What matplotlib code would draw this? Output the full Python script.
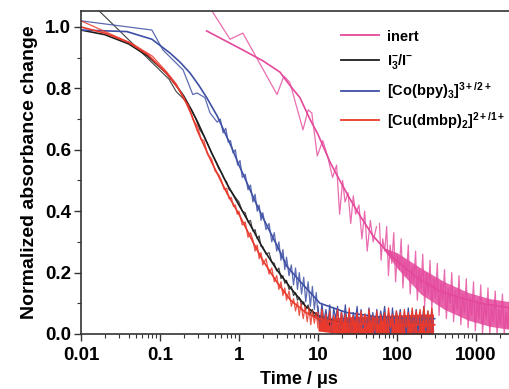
import matplotlib
matplotlib.use('Agg')
import matplotlib.pyplot as plt
from matplotlib.ticker import AutoMinorLocator, FixedLocator, FixedFormatter
from matplotlib.lines import Line2D

plt.rcParams['font.family'] = ['Liberation Sans', 'DejaVu Sans']
plt.rcParams['font.weight'] = 'bold'
plt.rcParams['mathtext.fontset'] = 'custom'
plt.rcParams['mathtext.rm'] = 'Liberation Sans:bold'
plt.rcParams['mathtext.it'] = 'Liberation Sans:bold'
plt.rcParams['mathtext.bf'] = 'Liberation Sans:bold'

# ---- data (time in us, normalized change) ----
labels = ['inert', r'$\mathrm{I_3^{-}/I^{-}}$',
          r'$\mathrm{[Co(bpy)_3]^{3+/2+}}$', r'$\mathrm{[Cu(dmbp)_2]^{2+/1+}}$']

xtick_vals = [0.01, 0.1, 1, 10, 100, 1000]
xtick_labels = ['0.01', '0.1', '1', '10', '100', '1000']

# smooth fits
pink_fit_t = [0.39, 1.03, 2.0, 3.3, 4.4, 5.9, 7.9, 10, 14.2, 18, 25.4, 35, 49.7, 80, 134, 200, 350, 600, 1124, 2700]
pink_fit_v = [0.987, 0.93, 0.89, 0.853, 0.81, 0.77, 0.70, 0.65, 0.56, 0.51, 0.44, 0.38, 0.32, 0.26, 0.21, 0.175, 0.14, 0.12, 0.10, 0.085]

blk_fit_t = [0.01, 0.02, 0.04, 0.07, 0.12, 0.16, 0.2, 0.25, 0.3, 0.45, 0.7, 1.0, 1.5, 2.0, 3.0, 4.5, 7, 10, 15, 20]
blk_fit_v = [0.99, 0.975, 0.945, 0.905, 0.85, 0.81, 0.775, 0.73, 0.69, 0.59, 0.49, 0.42, 0.34, 0.28, 0.21, 0.15, 0.09, 0.06, 0.045, 0.035]

blue_fit_t = [0.01, 0.038, 0.079, 0.134, 0.18, 0.24, 0.31, 0.39, 0.53, 0.8, 1.0, 1.2, 1.55, 2.0, 3.0, 4.05, 6.0, 10.6, 23, 60, 150, 300]
blue_fit_v = [0.99, 0.985, 0.96, 0.915, 0.885, 0.85, 0.81, 0.77, 0.71, 0.61, 0.55, 0.505, 0.44, 0.38, 0.29, 0.22, 0.17, 0.10, 0.07, 0.055, 0.05, 0.05]

red_fit_t = [0.01, 0.02, 0.04, 0.07, 0.12, 0.17, 0.2, 0.25, 0.3, 0.45, 0.7, 1.0, 1.5, 2.0, 3.0, 4.5, 7, 10, 20, 50, 300]
red_fit_v = [1.00, 0.98, 0.95, 0.91, 0.85, 0.80, 0.77, 0.715, 0.66, 0.56, 0.46, 0.39, 0.30, 0.24, 0.17, 0.11, 0.07, 0.05, 0.035, 0.03, 0.03]

# raw traces (early, sparse part)
pink_raw_t = [0.3, 0.77, 1.12, 3.03, 3.7, 4.4, 6.46, 7.5, 8.35, 9.8, 11.5, 13.2, 15.3, 17.2, 18.8,
              20.5, 22, 24, 26, 28, 30, 33, 36, 39, 42, 46, 50, 55]
pink_raw_v = [1.125, 0.96, 0.98, 0.78, 0.84, 0.82, 0.665, 0.73, 0.72, 0.58, 0.63, 0.58, 0.51, 0.55, 0.39,
              0.50, 0.43, 0.46, 0.36, 0.45, 0.39, 0.42, 0.31, 0.40, 0.27, 0.37, 0.30, 0.35]

blk_raw_t = [0.01, 0.13, 0.16, 0.2, 0.25, 0.28, 0.32, 0.36, 0.4, 0.45,
             0.5, 0.55, 0.6, 0.65, 0.7, 0.75, 0.8, 0.9, 1.0, 1.1,
             1.2, 1.3, 1.4, 1.5, 1.6, 1.7, 1.8, 1.9, 2.0, 2.2,
             2.4, 2.6, 2.8, 3.0, 3.2, 3.4, 3.6, 3.8, 4.0, 4.3,
             4.6, 4.9, 5.2, 5.5, 5.8, 6.2, 6.6, 7.0, 7.5, 8.0,
             8.5, 9.0, 9.5, 10, 11, 12, 13, 14, 15]
blk_raw_v = [1.11, 0.83, 0.79, 0.765, 0.73, 0.705, 0.665, 0.645, 0.62, 0.59,
             0.565, 0.54, 0.525, 0.505, 0.495, 0.47, 0.465, 0.445, 0.43, 0.40,
             0.395, 0.365, 0.37, 0.335, 0.34, 0.31, 0.32, 0.285, 0.285, 0.26,
             0.265, 0.235, 0.23, 0.205, 0.215, 0.18, 0.19, 0.165, 0.175, 0.145,
             0.155, 0.125, 0.135, 0.11, 0.12, 0.095, 0.105, 0.08, 0.095, 0.065,
             0.08, 0.055, 0.07, 0.045, 0.06, 0.04, 0.055, 0.03, 0.045]

blue_raw_t = [0.01, 0.079, 0.109, 0.196, 0.26, 0.294, 0.37, 0.43, 0.53, 0.58, 0.63,
              0.68, 0.73, 0.78, 0.84, 0.9, 0.96, 1.03, 1.1, 1.2, 1.3,
              1.4, 1.5, 1.6, 1.7, 1.8, 1.9, 2.0, 2.2, 2.4, 2.6,
              2.8, 3.0, 3.2, 3.4, 3.6, 3.8, 4.0, 4.3, 4.6, 4.9,
              5.2, 5.5, 5.8, 6.2, 6.6, 7.0, 7.5, 8.0, 8.5, 9.0,
              9.5, 10]
blue_raw_v = [1.02, 0.99, 0.925, 0.86, 0.78, 0.785, 0.77, 0.72, 0.69, 0.70, 0.655,
              0.67, 0.625, 0.63, 0.59, 0.60, 0.55, 0.565, 0.51, 0.52, 0.47,
              0.485, 0.43, 0.455, 0.40, 0.42, 0.37, 0.395, 0.34, 0.36, 0.30,
              0.33, 0.27, 0.30, 0.24, 0.275, 0.21, 0.25, 0.19, 0.225, 0.16,
              0.215, 0.145, 0.20, 0.13, 0.185, 0.105, 0.17, 0.09, 0.155, 0.08,
              0.135, 0.065]

red_raw_t = [0.01, 0.045, 0.08, 0.12, 0.16, 0.2, 0.23, 0.26, 0.3, 0.33,
             0.36, 0.4, 0.45, 0.5, 0.55, 0.6, 0.65, 0.7, 0.75, 0.8,
             0.85, 0.9, 0.95, 1.0, 1.1, 1.2, 1.3, 1.4, 1.5, 1.6,
             1.7, 1.8, 1.9, 2.0, 2.2, 2.4, 2.6, 2.8, 3.0, 3.2,
             3.4, 3.6, 3.8, 4.0, 4.3, 4.6, 4.9, 5.2, 5.5, 5.8,
             6.1, 6.5, 6.9, 7.3, 7.7, 8.1, 8.5, 9.0, 9.5, 10]
red_raw_v = [1.02, 0.945, 0.905, 0.855, 0.815, 0.765, 0.745, 0.70, 0.675, 0.635,
             0.63, 0.585, 0.57, 0.53, 0.52, 0.50, 0.47, 0.475, 0.44, 0.445,
             0.415, 0.42, 0.39, 0.40, 0.355, 0.365, 0.315, 0.33, 0.305, 0.27,
             0.29, 0.245, 0.265, 0.225, 0.245, 0.195, 0.215, 0.17, 0.19, 0.145,
             0.17, 0.125, 0.15, 0.11, 0.14, 0.09, 0.115, 0.075, 0.105, 0.06,
             0.10, 0.05, 0.09, 0.04, 0.085, 0.03, 0.075, 0.035, 0.07, 0.02]

# dense noisy tails
tail_t = [10, 10.6, 11.2, 11.9, 12.6, 13.3, 14.1, 14.9, 15.8, 16.7,
          17.7, 18.7, 19.8, 21, 22.2, 23.5, 24.9, 26.4, 27.9, 29.6,
          31.3, 33.2, 35.1, 37.2, 39.4, 41.7, 44.2, 46.8, 49.5, 52.4,
          55.5, 58.8, 62.2, 65.9, 69.8, 73.9, 78.2, 82.8, 87.7, 92.9,
          98.3, 104, 110, 117, 124, 131, 139, 147, 156, 165,
          175, 185, 196, 207, 219, 232, 246, 260, 276, 290]
blue_tail_v = [0.09, 0.02, 0.10, 0.04, 0.08, 0.03, 0.095, 0.0, 0.085, 0.05,
               0.09, 0.01, 0.075, 0.03, 0.095, 0.02, 0.06, 0.0, 0.07, 0.04,
               0.09, 0.0, 0.08, 0.02, 0.065, 0.01, 0.085, 0.03, 0.07, 0.0,
               0.08, 0.02, 0.075, 0.04, 0.09, 0.01, 0.07, 0.0, 0.085, 0.02,
               0.075, 0.03, 0.08, 0.01, 0.07, 0.0, 0.085, 0.02, 0.075, 0.0,
               0.08, 0.01, 0.07, 0.03, 0.09, 0.01, 0.075, 0.0, 0.08, 0.01]
red_tail_v = [0.07, 0.01, 0.08, 0.03, 0.065, 0.015, 0.075, 0.0, 0.06, 0.03,
              0.08, 0.005, 0.07, 0.02, 0.065, 0.01, 0.085, 0.0, 0.06, 0.025,
              0.07, 0.0, 0.075, 0.03, 0.065, 0.0, 0.08, 0.02, 0.06, 0.01,
              0.075, 0.0, 0.065, 0.025, 0.07, 0.0, 0.085, 0.02, 0.065, 0.0,
              0.075, 0.03, 0.07, 0.005, 0.08, 0.02, 0.07, 0.015, 0.085, 0.005,
              0.075, 0.03, 0.08, 0.0, 0.09, 0.02, 0.075, 0.005, 0.085, 0.01]
red_core_t = [10, 20, 50, 100, 200, 290]
red_core_lo = [0.01, 0.0, 0.0, 0.0, 0.0, 0.0]
red_core_hi = [0.05, 0.055, 0.06, 0.062, 0.065, 0.065]

pink_tail_t = [60, 63, 66, 70, 74, 78, 82, 86, 91, 96,
               101, 107, 113, 119, 125, 132, 139, 147, 155, 163,
               172, 181, 191, 201, 212, 224, 236, 249, 262, 276,
               291, 307, 324, 341, 360, 379, 400, 422, 445, 469,
               494, 521, 549, 579, 610, 643, 678, 715, 754, 795,
               838, 883, 931, 981, 1034, 1090, 1149, 1211, 1277, 1346,
               1419, 1496, 1577, 1662, 1752, 1847, 1947, 2052, 2163, 2280,
               2404, 2534, 2671]
pink_tail_v = [0.36, 0.24, 0.31, 0.27, 0.35, 0.19, 0.29, 0.23, 0.33, 0.17,
               0.26, 0.21, 0.31, 0.15, 0.24, 0.19, 0.29, 0.13, 0.22, 0.17,
               0.27, 0.11, 0.21, 0.15, 0.26, 0.09, 0.20, 0.13, 0.24, 0.08,
               0.18, 0.12, 0.23, 0.06, 0.17, 0.11, 0.21, 0.05, 0.15, 0.10,
               0.20, 0.04, 0.14, 0.08, 0.19, 0.03, 0.13, 0.07, 0.18, 0.02,
               0.12, 0.06, 0.17, 0.01, 0.11, 0.05, 0.16, 0.0, 0.10, 0.05,
               0.15, 0.0, 0.09, 0.04, 0.14, 0.0, 0.08, 0.03, 0.13, 0.0,
               0.07, 0.02, 0.12]
pink_core_t = [70, 100, 200, 400, 800, 1500, 2700]
pink_core_lo = [0.27, 0.215, 0.13, 0.08, 0.045, 0.025, 0.015]
pink_core_hi = [0.28, 0.265, 0.215, 0.17, 0.135, 0.115, 0.105]

pink = '#e4489b'
black = '#1e1e1e'
blue = '#3f51a5'
red = '#e8392c'

fig = plt.figure(figsize=(5.09, 3.89), dpi=100)
ax = fig.add_axes([81/509, 1-334/389, 428/509, 323/389])
ax.set_xscale('log')

# inert
ax.fill_between(pink_core_t, pink_core_lo, pink_core_hi, color=pink, lw=0, alpha=0.85)
ax.plot(pink_tail_t, pink_tail_v, color=pink, lw=0.9, alpha=0.8)
ax.plot(pink_raw_t, pink_raw_v, color=pink, lw=0.9, alpha=0.8)
ax.plot(pink_fit_t, pink_fit_v, color=pink, lw=1.2)

# I3-/I-
ax.plot(blk_raw_t, blk_raw_v, color=black, lw=0.8, alpha=0.85)
ax.plot(blk_fit_t, blk_fit_v, color=black, lw=1.2)

# Co
ax.plot(tail_t, blue_tail_v, color=blue, lw=0.9)
ax.plot(blue_raw_t, blue_raw_v, color=blue, lw=0.9, alpha=0.85)
ax.plot(blue_fit_t, blue_fit_v, color=blue, lw=1.2)

# Cu
ax.fill_between(red_core_t, red_core_lo, red_core_hi, color=red, lw=0)
ax.plot(tail_t, red_tail_v, color=red, lw=0.9)
ax.plot(red_raw_t, red_raw_v, color=red, lw=0.9, alpha=0.85)
ax.plot(red_fit_t, red_fit_v, color=red, lw=1.2)

ax.set_xlim(0.01, 2619)
ax.set_ylim(0, 1.052)
ax.xaxis.set_major_locator(FixedLocator(xtick_vals))
ax.xaxis.set_major_formatter(FixedFormatter(xtick_labels))
ax.set_yticks([0.0, 0.2, 0.4, 0.6, 0.8, 1.0])
ax.set_yticklabels(['0.0', '0.2', '0.4', '0.6', '0.8', '1.0'])
ax.yaxis.set_minor_locator(AutoMinorLocator(2))

for s in ['top', 'left', 'bottom']:
    ax.spines[s].set_color('#333333')
    ax.spines[s].set_linewidth(1.2)
ax.spines['right'].set_visible(False)
ax.tick_params(which='major', direction='out', length=5, width=1, color='#333333',
               labelsize=13.5, pad=2)
ax.tick_params(axis='x', which='major', pad=4)
ax.tick_params(which='minor', direction='out', length=3, width=0.8, color='#333333')
for lab in ax.get_xticklabels() + ax.get_yticklabels():
    lab.set_fontweight('bold')

ax.set_xlabel('Time / \u03bcs', fontsize=13, fontweight='bold')
ax.xaxis.set_label_coords(0.51, -0.115)
ax.set_ylabel('Normalized absorbance change', fontsize=14, fontweight='bold', labelpad=5)

handles = [Line2D([], [], color=c, lw=1.3) for c in [pink, black, blue, red]]
leg = ax.legend(handles, labels, loc='upper left', bbox_to_anchor=(0.59, 0.965),
                frameon=False, fontsize=10.5, handlelength=2.6, handletextpad=0.6,
                labelspacing=0.6, borderpad=0)
for t in leg.get_texts():
    t.set_fontweight('bold')

fig.savefig('out.png', dpi=100)
